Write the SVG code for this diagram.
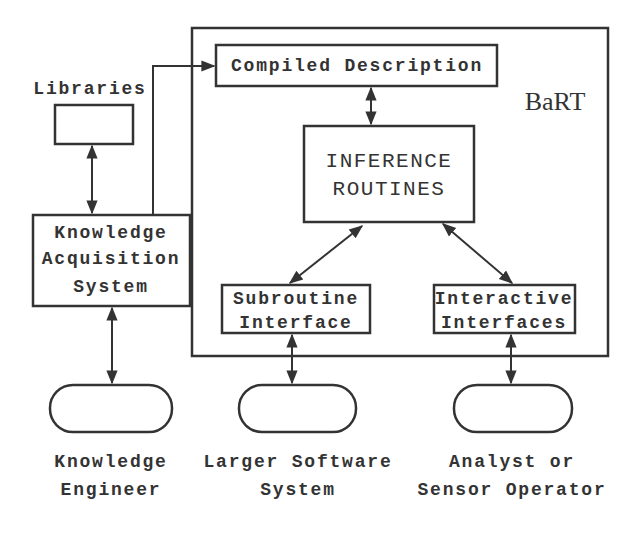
<svg xmlns="http://www.w3.org/2000/svg" width="640" height="535" viewBox="0 0 640 535">
<style>
.b{fill:none;stroke:#333;stroke-width:2.5}
.c{fill:none;stroke:#333;stroke-width:2}
text{font-family:"Liberation Mono",monospace;font-weight:bold;fill:#333;font-size:18px;letter-spacing:1.8px;text-anchor:middle}
</style>
<defs>
<marker id="a" viewBox="0 0 10 10" refX="9" refY="5" markerWidth="7" markerHeight="7" orient="auto-start-reverse"><path d="M0,1 L10,5 L0,9 Z" fill="#333"/></marker>
</defs>
<rect width="640" height="535" fill="#fff"/>
<g id="bart"><rect class="b" x="192" y="28" width="416" height="328"/><text x="555" y="110" style="font-family:'Liberation Serif',serif;font-size:26px;letter-spacing:0;font-weight:normal">BaRT</text></g>
<g id="compiled"><rect class="b" x="216" y="45" width="281" height="41"/><text x="357" y="71">Compiled Description</text></g>
<g id="inference"><rect class="b" x="304" y="126" width="170" height="96"/><text x="389" y="167" style="font-size:21px;letter-spacing:1.5px;font-weight:normal">INFERENCE</text><text x="389" y="195" style="font-size:21px;letter-spacing:1.5px;font-weight:normal">ROUTINES</text></g>
<g id="libraries"><text x="90" y="94">Libraries</text><rect class="b" x="55" y="105" width="78" height="39"/></g>
<g id="kas"><rect class="b" x="33" y="215" width="157" height="91"/><text x="111" y="238">Knowledge</text><text x="111" y="264">Acquisition</text><text x="111" y="292">System</text></g>
<g id="sub"><rect class="b" x="222" y="285" width="148" height="48"/><text x="296" y="304">Subroutine</text><text x="296" y="328">Interface</text></g>
<g id="inter"><rect class="b" x="434" y="285" width="141" height="48"/><text x="504" y="304">Interactive</text><text x="504" y="328">Interfaces</text></g>
<g id="ke"><rect class="b" x="50" y="385" width="122" height="47" rx="23"/><text x="111" y="467">Knowledge</text><text x="111" y="495">Engineer</text></g>
<g id="lss"><rect class="b" x="239" y="385" width="117" height="47" rx="23"/><text x="298" y="467">Larger Software</text><text x="298" y="495">System</text></g>
<g id="ana"><rect class="b" x="454" y="385" width="118" height="47" rx="23"/><text x="512" y="467">Analyst or</text><text x="512" y="495">Sensor Operator</text></g>
<g id="connectors">
<path class="c" d="M153,215 V66 H214" marker-end="url(#a)"/>
<path class="c" d="M92,146 V213" marker-start="url(#a)" marker-end="url(#a)"/>
<path class="c" d="M371,88 V124" marker-start="url(#a)" marker-end="url(#a)"/>
<path class="c" d="M290,283 L362,226" marker-start="url(#a)" marker-end="url(#a)"/>
<path class="c" d="M443,224 L512,283" marker-start="url(#a)" marker-end="url(#a)"/>
<path class="c" d="M112,308 V383" marker-start="url(#a)" marker-end="url(#a)"/>
<path class="c" d="M292,335 V383" marker-start="url(#a)" marker-end="url(#a)"/>
<path class="c" d="M511,335 V383" marker-start="url(#a)" marker-end="url(#a)"/>
</g>
</svg>
